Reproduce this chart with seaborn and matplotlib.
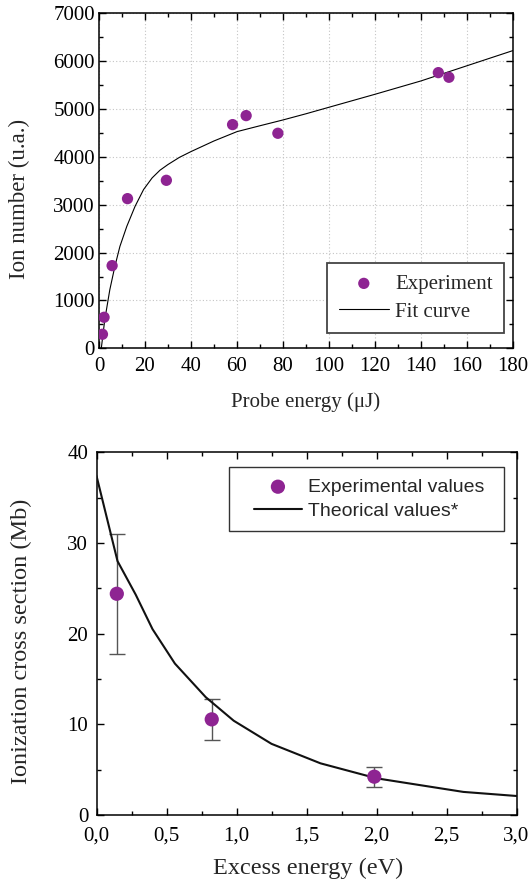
import numpy as np
import pandas as pd
import matplotlib
matplotlib.use("Agg")
import matplotlib.pyplot as plt
from matplotlib.ticker import MultipleLocator, FixedLocator, FixedFormatter
from matplotlib.patches import Rectangle
import seaborn as sns

# ---------------- data: top panel ----------------
probe_energy = [1.5, 2.2, 5.7, 12.4, 29.3, 58.1, 64.0, 77.8, 147.6, 152.2]
ion_number = [293, 648, 1727, 3127, 3510, 4674, 4862, 4493, 5760, 5663]
fit_x = [1.0, 2.5, 4.7, 6.9, 9.1, 12.1, 15.7, 19.4, 23.1, 26.5, 30, 35, 40, 50, 60, 70, 80, 90,
         100, 120, 140, 160, 180]
fit_y = [0, 594, 1223, 1712, 2130, 2549, 2968, 3318, 3560, 3720, 3840, 3990, 4110, 4332, 4527,
         4650, 4771, 4900, 5036, 5307, 5586, 5903, 6220]

# ---------------- data: bottom panel ----------------
excess_energy = [0.145, 0.823, 1.984]
cross_section = [24.4, 10.55, 4.23]
cross_err = [6.6, 2.3, 1.12]
theo_x = [0.0, 0.15, 0.28, 0.40, 0.56, 0.78, 0.98, 1.25, 1.60, 2.0, 2.62, 3.0]
theo_y = [37.4, 28.0, 24.3, 20.5, 16.7, 13.0, 10.4, 7.85, 5.7, 4.05, 2.55, 2.1]
bottom_xticks = [0.0, 0.5, 1.0, 1.5, 2.0, 2.5, 3.0]
bottom_xticklabels = ["0,0", "0,5", "1,0", "1,5", "2,0", "2,5", "3,0"]
top_xticks = [0, 20, 40, 60, 80, 100, 120, 140, 160, 180]
top_yticks = [0, 1000, 2000, 3000, 4000, 5000, 6000, 7000]
bottom_yticks = [0, 10, 20, 30, 40]

PURPLE = "#8e2492"

sns.set_style("ticks")
plt.rcParams["font.family"] = ["Liberation Serif", "DejaVu Serif"]

fig = plt.figure(figsize=(5.30, 8.86), dpi=100)

def style_axes(ax, size):
    for s in ax.spines.values():
        s.set_linewidth(1.1)
        s.set_color("black")
    ax.tick_params(which="both", direction="in", top=True, right=True,
                   width=1.0, colors="black", labelsize=size)
    ax.tick_params(which="major", length=5)
    ax.tick_params(which="minor", length=2.8)

# ---------------- top panel ----------------
ax1 = fig.add_axes([0.1868, 0.6069, 0.7808, 0.3781])
df_exp = pd.DataFrame({"x": probe_energy, "y": ion_number})
df_fit = pd.DataFrame({"x": fit_x, "y": fit_y})
sns.lineplot(data=df_fit, x="x", y="y", ax=ax1, color="black", linewidth=0.8,
             estimator=None, sort=False, label="Fit curve", zorder=2)
sns.scatterplot(data=df_exp, x="x", y="y", ax=ax1, color=PURPLE, s=66,
                edgecolor="none", label="Experiment", zorder=3)
ax1.set_xlim(0, 180)
ax1.set_ylim(0, 7000)
ax1.xaxis.set_major_locator(FixedLocator(top_xticks))
ax1.yaxis.set_major_locator(FixedLocator(top_yticks))
ax1.xaxis.set_minor_locator(MultipleLocator(10))
ax1.yaxis.set_minor_locator(MultipleLocator(500))
ax1.grid(True, which="major", color="#c4c4c4", linestyle=(0, (1, 2)), linewidth=0.8)
ax1.set_axisbelow(True)
style_axes(ax1, 15)
ax1.tick_params(axis="x", which="major", pad=6)
ax1.tick_params(axis="y", which="major", pad=3)
ax1.set_xlabel("Probe energy (μJ)", fontsize=15)
ax1.set_ylabel("Ion number (u.a.)", fontsize=16.5)
ax1.xaxis.set_label_coords(0.5, -0.13)
ax1.yaxis.set_label_coords(-0.166, 0.446)
h, l = ax1.get_legend_handles_labels()
order = [l.index("Experiment"), l.index("Fit curve")]
leg1 = ax1.legend([h[i] for i in order], [l[i] for i in order],
                  loc="lower right", bbox_to_anchor=(0.979, 0.045), borderaxespad=0,
                  fontsize=15, frameon=True, fancybox=False, handlelength=2.4,
                  handletextpad=0.3, borderpad=0.55, labelspacing=0.4,
                  markerscale=1.0)
leg1.get_frame().set_edgecolor("#444444")
leg1.get_frame().set_linewidth(1.3)
leg1.get_frame().set_alpha(1)

# ---------------- bottom panel ----------------
ax2 = fig.add_axes([0.1821, 0.0801, 0.7925, 0.4094])
df_theo = pd.DataFrame({"x": theo_x, "y": theo_y})
df_cs = pd.DataFrame({"x": excess_energy, "y": cross_section})
ax2.errorbar(excess_energy, cross_section, yerr=cross_err, fmt="none",
             ecolor="#555555", elinewidth=1.0, capsize=5.5, capthick=1.0, zorder=2)
sns.lineplot(data=df_theo, x="x", y="y", ax=ax2, color="#111111", linewidth=1.5,
             estimator=None, sort=False, label="Theorical values*", zorder=3)
sns.scatterplot(data=df_cs, x="x", y="y", ax=ax2, color=PURPLE, s=105,
                edgecolor="none", label="Experimental values", zorder=4)
ax2.set_xlim(0, 3.0)
ax2.set_ylim(0, 40)
ax2.xaxis.set_major_locator(FixedLocator(bottom_xticks))
ax2.xaxis.set_major_formatter(FixedFormatter(bottom_xticklabels))
ax2.yaxis.set_major_locator(FixedLocator(bottom_yticks))
ax2.xaxis.set_minor_locator(MultipleLocator(0.25))
ax2.yaxis.set_minor_locator(MultipleLocator(5))
ax2.grid(False)
style_axes(ax2, 15)
ax2.tick_params(axis="x", which="major", pad=8)
ax2.tick_params(axis="y", which="major", pad=6)
ax2.set_xlabel("Excess energy (eV)", fontsize=17.5)
ax2.set_ylabel("Ionization cross section (Mb)", fontsize=17.5)
ax2.xaxis.set_label_coords(0.503, -0.118)
ax2.yaxis.set_label_coords(-0.1536, 0.480)
h, l = ax2.get_legend_handles_labels()
order = [l.index("Experimental values"), l.index("Theorical values*")]
ax2.add_patch(Rectangle((0.3143, 0.783), 0.9693 - 0.3143, 0.9587 - 0.783,
                        transform=ax2.transAxes, facecolor="white", edgecolor="#333333",
                        linewidth=1.0, zorder=5))
leg2 = ax2.legend([h[i] for i in order], [l[i] for i in order],
                  loc="center", bbox_to_anchor=(0.6488, 0.8707), borderaxespad=0,
                  prop={"family": ["Liberation Sans", "DejaVu Sans"], "size": 14},
                  frameon=False, handlelength=2.45,
                  handletextpad=0.3, borderpad=0.3, labelspacing=0.35)
leg2.set_zorder(6)

fig.savefig("out.png", dpi=100)
